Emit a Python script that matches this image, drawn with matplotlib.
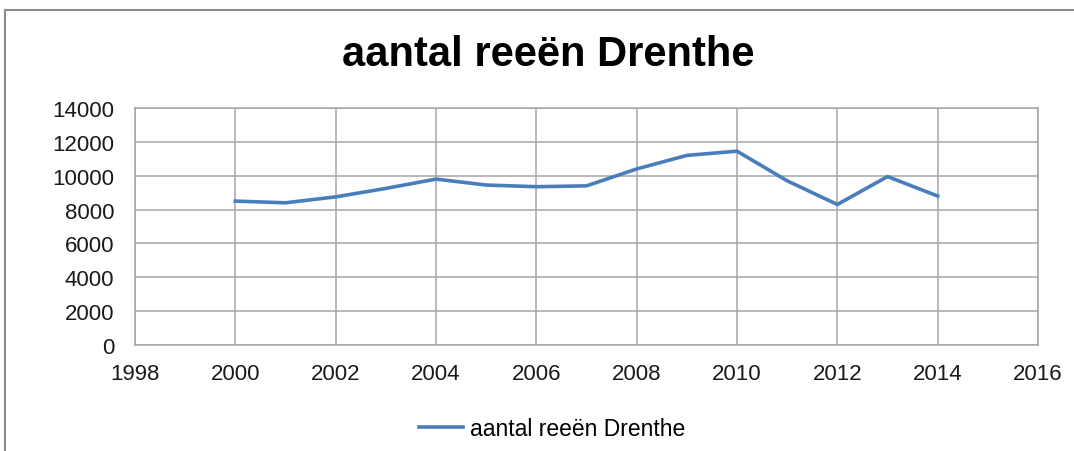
import matplotlib.pyplot as plt
from matplotlib.patches import Rectangle

years = [2000, 2001, 2002, 2003, 2004, 2005, 2006, 2007,
         2008, 2009, 2010, 2011, 2012, 2013, 2014]
reeen = [8500, 8400, 8750, 9250, 9800, 9450, 9350, 9400,
         10400, 11200, 11450, 9700, 8300, 9950, 8800]

x_ticks = list(range(1998, 2017, 2))
y_ticks = list(range(0, 14001, 2000))

plt.rcParams['font.family'] = ['Liberation Sans', 'DejaVu Sans']

fig = plt.figure(figsize=(10.74, 4.52), dpi=100)
ax = fig.add_axes([135 / 1074, 1 - 346 / 452, (1038 - 135) / 1074, (346 - 109) / 452])

# outer chart border (runs off the right and bottom edges)
fig.patches.append(Rectangle((5 / 1074, -0.1), 1.2, 1.1 - 11 / 452,
                             transform=fig.transFigure, fill=False,
                             edgecolor='#8c8c8c', linewidth=1.5))

ax.plot(years, reeen, color='#4a7ebb', linewidth=2.6, label='aantal reeën Drenthe')

ax.set_xlim(1998, 2016)
ax.set_ylim(0, 14000)
ax.set_xticks(x_ticks)
ax.set_yticks(y_ticks)
ax.grid(True, color='#a6a6a6', linewidth=1.1)
ax.set_axisbelow(True)
for s in ax.spines.values():
    s.set_color('#a6a6a6')
    s.set_linewidth(1.1)
ax.tick_params(length=0, labelsize=16, colors='#1a1a1a')
ax.tick_params(axis='x', pad=13)
ax.tick_params(axis='y', pad=15)

fig.text(548 / 1074, 1 - 55 / 452, 'aantal reeën Drenthe', ha='center', va='center',
         fontsize=30, fontweight='bold')

fig.legend(loc='center', bbox_to_anchor=(552 / 1074, 1 - 430 / 452), frameon=False,
           fontsize=16.5, handlelength=1.9, handletextpad=0.3)

fig.savefig('out.png', dpi=100)
